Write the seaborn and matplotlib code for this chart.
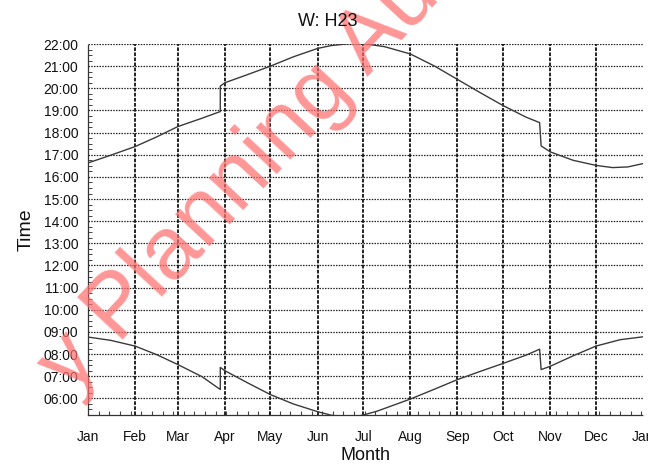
import matplotlib
matplotlib.use("Agg")
import matplotlib.pyplot as plt
from matplotlib.ticker import FixedLocator, FuncFormatter, MultipleLocator
import pandas as pd
import seaborn as sns

# Day of year (0 = 1 Jan) and clock time in decimal hours.
# Repeated days mark the clock changes at the end of March and October.
sunset_day = [0, 15, 31, 45, 59, 75, 87, 87, 90, 105, 120, 135, 151, 160,
              172, 183, 195, 212, 228, 243, 258, 273, 288, 297, 298, 304,
              319, 334, 345, 355, 365]
sunset_hour = [16.63, 16.98, 17.37, 17.80, 18.27, 18.65, 18.95, 20.10, 20.25,
               20.62, 21.00, 21.42, 21.80, 21.93, 22.02, 22.00, 21.88, 21.55,
               21.00, 20.40, 19.80, 19.22, 18.70, 18.45, 17.40, 17.13, 16.75,
               16.52, 16.42, 16.45, 16.60]

sunrise_day = [0, 15, 31, 45, 59, 75, 87, 87, 90, 105, 120, 135, 151, 160,
               172, 181, 190, 212, 228, 243, 258, 273, 288, 297, 298, 304,
               319, 334, 350, 365]
sunrise_hour = [8.77, 8.62, 8.36, 7.98, 7.53, 6.98, 6.40, 7.40, 7.25, 6.70,
                6.17, 5.75, 5.40, 5.24, 5.12, 5.25, 5.42, 5.97, 6.42, 6.85,
                7.22, 7.58, 7.95, 8.22, 7.30, 7.45, 7.92, 8.36, 8.65, 8.78]

month_start = [0, 31, 59, 90, 120, 151, 181, 212, 243, 273, 304, 334, 365]
month_label = ["Jan", "Feb", "Mar", "Apr", "May", "Jun", "Jul", "Aug",
               "Sep", "Oct", "Nov", "Dec", "Jan"]
hour_ticks = list(range(6, 23))

df = pd.concat([
    pd.DataFrame({"day": sunset_day, "hour": sunset_hour, "series": "sunset"}),
    pd.DataFrame({"day": sunrise_day, "hour": sunrise_hour, "series": "sunrise"}),
], ignore_index=True)

sns.set_theme(style="white")
plt.rcParams["font.family"] = ["Liberation Sans", "DejaVu Sans"]

fig = plt.figure(figsize=(6.48, 4.66), dpi=100)
ax = fig.add_axes([88 / 648, 1 - 415 / 466, (643 - 88) / 648, (415 - 44) / 466])

sns.lineplot(data=df, x="day", y="hour", units="series", estimator=None,
             sort=False, color="#3a3a3a", linewidth=1.0, ax=ax, zorder=3)

ax.set_xlim(0, 365)
ax.set_ylim(5.25, 22.0)

ax.xaxis.set_major_locator(FixedLocator(month_start))
ax.set_xticklabels(month_label)
ax.xaxis.set_minor_locator(MultipleLocator(7))
ax.yaxis.set_major_locator(FixedLocator(hour_ticks))
ax.yaxis.set_major_formatter(FuncFormatter(lambda v, p: f"{int(round(v)):02d}:00"))
ax.yaxis.set_minor_locator(MultipleLocator(0.25))

ax.tick_params(axis="x", which="major", length=0, pad=11, labelsize=10,
               colors="#111111")
ax.tick_params(axis="x", which="minor", direction="in", length=3, width=0.8,
               color="#444444", bottom=True)
ax.tick_params(axis="y", which="major", direction="out", length=3, width=0.8,
               pad=4, labelsize=10, colors="#111111")
ax.tick_params(axis="y", which="minor", direction="in", length=3, width=0.7,
               color="#444444", left=True)

# dotted grid: hour lines lighter, month lines heavier
for h in hour_ticks:
    ax.axhline(h, color="#222222", lw=0.9, ls=(0, (1.2, 1.0)), zorder=1)
for d in month_start[1:-1]:
    ax.axvline(d, color="#111111", lw=1.3, ls=(0, (2.0, 0.8)), zorder=1)

for side in ("top", "right"):
    ax.spines[side].set_visible(False)
for side in ("left", "bottom"):
    ax.spines[side].set_color("#333333")
    ax.spines[side].set_linewidth(0.9)
    ax.spines[side].set_linestyle((0, (1.2, 1.0)))

ax.set_xlabel("Month", fontsize=13, color="#111111", labelpad=2)
ax.set_ylabel("Time", fontsize=14, color="#111111", labelpad=6)
fig.text(0.506, 1 - 21 / 466, "W: H23", ha="center", va="center",
         fontsize=13, color="#111111", zorder=11)

fig.text(0.37, 0.612, "y Planning Au", rotation=47, ha="center", va="center",
         fontsize=64, color="#ff6e6e", alpha=0.72, zorder=10)

fig.savefig("out.png", dpi=100)
